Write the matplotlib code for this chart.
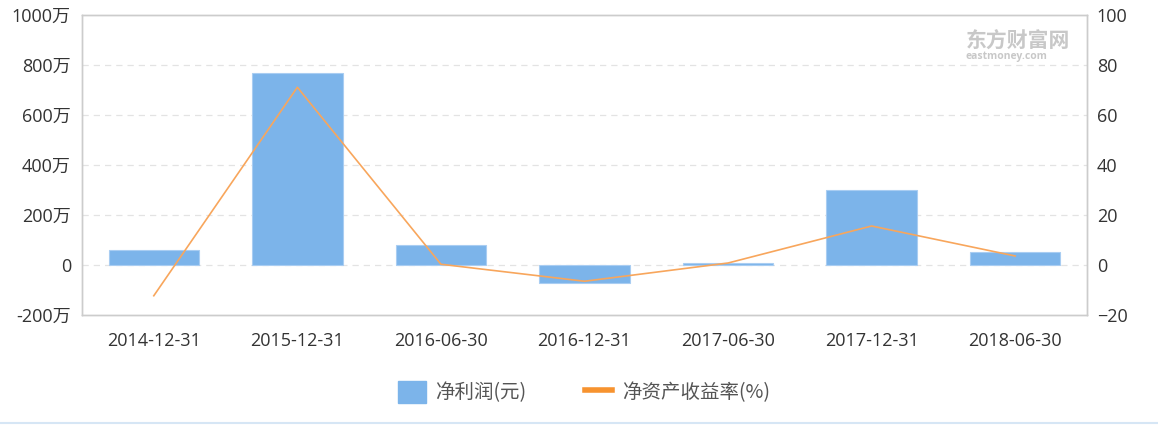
import matplotlib
matplotlib.use('Agg')
import matplotlib.pyplot as plt
from matplotlib.patches import Patch
from matplotlib.lines import Line2D
import numpy as np

plt.rcParams['font.family'] = ['Open Sans', 'Noto Sans CJK SC', 'DejaVu Sans']

dates = ['2014-12-31', '2015-12-31', '2016-06-30', '2016-12-31',
         '2017-06-30', '2017-12-31', '2018-06-30']
net_profit_wan = [60, 768, 80, -72, 8, 300, 51]
roe_pct = [-12.3, 71.1, 0.3, -6.5, 0.8, 15.6, 3.6]
left_ticks = [-200, 0, 200, 400, 600, 800, 1000]
right_ticks = [-20, 0, 20, 40, 60, 80, 100]

bar_color = '#7cb4ea'
line_color = '#f8a65c'
spine_color = '#cccccc'
text_color = '#333333'

fig = plt.figure(figsize=(11.58, 4.26), dpi=100)
ax = fig.add_axes([82 / 1158, 1 - 315 / 426, 1005 / 1158, 300 / 426])
ax2 = ax.twinx()

x = np.arange(len(dates))
ax.bar(x, net_profit_wan, width=0.63, color=bar_color, edgecolor='#a9cdf2',
       linewidth=0.8, zorder=2)
ax.set_xlim(-0.5, len(dates) - 0.5)
ax.set_ylim(-200, 1000)
ax.set_yticks(left_ticks)
ax.set_yticklabels([f'{t}万' if t != 0 else '0' for t in left_ticks])
ax.set_xticks(x)
ax.set_xticklabels(dates)
for t in [0, 200, 400, 600, 800]:
    ax.axhline(t, color='#e3e3e3', lw=0.9, ls=(0, (5, 4)), zorder=1)

ax2.plot(x, roe_pct, color=line_color, lw=1.2, zorder=3)
ax2.set_ylim(-20, 100)
ax2.set_yticks(right_ticks)

for a in (ax, ax2):
    for s in a.spines.values():
        s.set_color(spine_color)
        s.set_linewidth(1.0)
    a.tick_params(length=0, labelsize=13, colors=text_color)
ax.tick_params(axis='y', pad=8)
ax.tick_params(axis='x', pad=12)
ax2.tick_params(axis='y', pad=7)

# watermark
fig.text(966 / 1158, 1 - 41 / 426, '东方财富网', fontsize=15, color='#c8c8c8',
         ha='left', va='center', fontweight='bold', family='Noto Sans CJK SC')
fig.text(966 / 1158, 1 - 56 / 426, 'eastmoney.com', fontsize=7.5, color='#c8c8c8',
         ha='left', va='center', fontweight='bold')

handles = [Patch(facecolor=bar_color, edgecolor=bar_color),
           Line2D([0], [0], color='#f7932f', lw=4)]
fig.legend(handles, ['净利润(元)', '净资产收益率(%)'], loc='center',
           bbox_to_anchor=(584 / 1158, 1 - 392 / 426), ncol=2, frameon=False,
           prop={'family': ['Noto Sans CJK SC'], 'size': 14},
           labelcolor='#555555', handlelength=1.4, handleheight=1.4,
           columnspacing=3.0, handletextpad=0.5)

fig.add_artist(Line2D([0, 1], [1 - 423 / 426, 1 - 423 / 426], color='#d6e6f5',
                      lw=1.5, transform=fig.transFigure))

fig.savefig('out.png', dpi=100)
